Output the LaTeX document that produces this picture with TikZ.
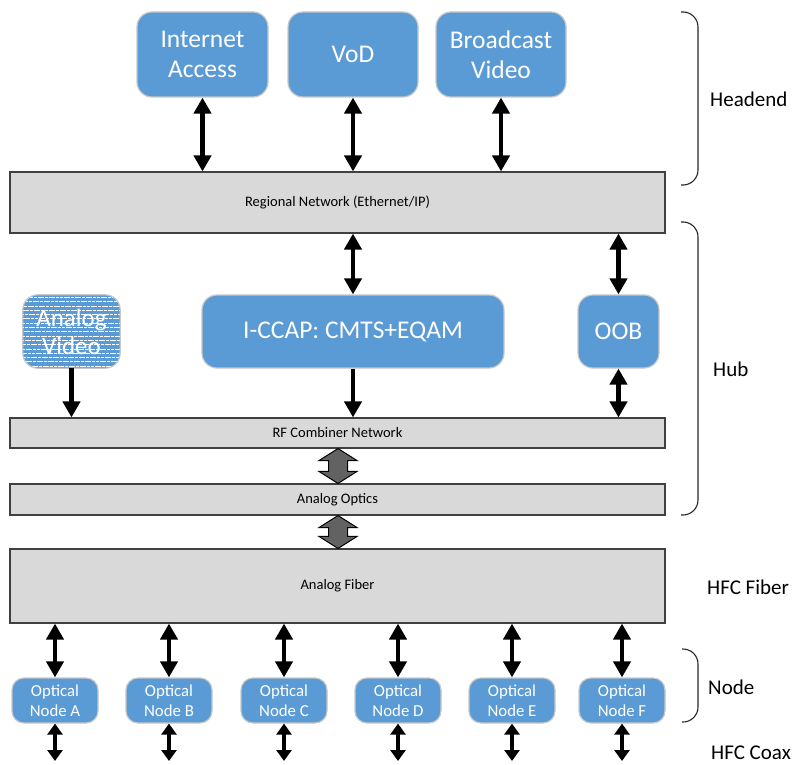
\documentclass[tikz,border=0pt]{standalone}
\usepackage{fontspec}
\setmainfont{Carlito}
\usetikzlibrary{arrows.meta,calc}
\definecolor{boxblue}{HTML}{5B9BD5}
\definecolor{boxedge}{HTML}{C8C8C8}
\definecolor{bargray}{HTML}{D9D9D9}
\definecolor{baredge}{HTML}{404040}
\definecolor{blockgray}{HTML}{626262}
\begin{document}
\begin{tikzpicture}[x=1pt,y=-1pt,
  service/.style={draw=boxedge,line width=1.2pt,fill=boxblue,rounded corners=15pt,
    text=white,align=center,inner sep=0pt,font=\fontsize{25.5}{30}\selectfont},
  optnode/.style={draw=boxedge,line width=1.2pt,fill=boxblue,rounded corners=12pt,
    text=white,align=center,inner sep=0pt,minimum width=86pt,minimum height=45pt,
    font=\fontsize{16.8}{19.5}\selectfont},
  bar/.style={draw=baredge,line width=1.1pt,fill=bargray,inner sep=0pt,
    minimum width=655pt,font=\fontsize{14.5}{16}\selectfont},
  sidelabel/.style={font=\fontsize{21}{25}\selectfont,inner sep=0pt},
  bigdbl/.style={line width=4.5pt,{Triangle[width=17pt,length=16pt]}-{Triangle[width=17pt,length=16pt]}},
  bigone/.style={line width=4.5pt,-{Triangle[width=17pt,length=16pt]}},
  smalldbl/.style={line width=4pt,{Triangle[width=15pt,length=11pt]}-{Triangle[width=15pt,length=11pt]}},
  bracket/.style={draw=black!85,line width=1.1pt,rounded corners=15pt},
  blockarrow/.style={draw=black,line width=1pt,fill=blockgray,line join=miter}
]
\fill[white] (0,0) rectangle (795,765);
\useasboundingbox (0,0) rectangle (795,765);

% headend services
\node[service,minimum width=131pt,minimum height=85pt] (inet)  at (202.5,54.5) {Internet\\Access};
\node[service,minimum width=130pt,minimum height=85pt] (vod)   at (353,54.5) {VoD};
\node[service,minimum width=130pt,minimum height=85pt] (bcast) at (501,54.5) {Broadcast\\Video};

% network bars
\node[bar,minimum height=61pt] (regional) at (337.5,202.5) {Regional Network (Ethernet/IP)};
\node[bar,minimum height=30pt] (rfcomb)   at (337.5,433)   {RF Combiner Network};
\node[bar,minimum height=31pt] (optics)   at (337.5,499.5) {Analog Optics};
\node[bar,minimum height=74pt] (fiber)    at (337.5,586)   {Analog Fiber};

% hub equipment
\node[service,minimum width=302pt,minimum height=73pt] (iccap) at (353,331.5) {I-CCAP: CMTS+EQAM};
\node[service,minimum width=81pt,minimum height=73pt] (oob) at (618.5,331.5) {OOB};

% analog video source with striped fill
\node[minimum width=97pt,minimum height=73pt,inner sep=0pt] (anvid) at (71.5,331.5) {};
\begin{scope}
  \clip[rounded corners=15pt] (anvid.south west) rectangle (anvid.north east);
  \fill[boxblue] (anvid.south west) rectangle (anvid.north east);
  \foreach \k in {0,...,17}
    \draw[white,line width=0.8pt,dash pattern=on 3pt off 0.7pt,dash phase=\k*1.3pt]
      ($(anvid.north west)+(0,2.5+4.3*\k)$) -- ++(97,0);
\end{scope}
\draw[boxedge,line width=1.2pt,rounded corners=15pt] (anvid.south west) rectangle (anvid.north east);
\node[text=white,align=center,font=\fontsize{25}{28}\selectfont] at (anvid) {Analog\\Video};

% optical nodes
\foreach \n/\x in {A/55,B/169,C/284,D/398,E/512,F/622}{
  \node[optnode] (node\n) at (\x,700.5) {Optical\\Node \n};
  \coordinate (coax\n) at (\x,761);
}

% connectors, headend
\foreach \s in {inet,vod,bcast}
  \draw[bigdbl] (\s.south) -- (\s.south |- regional.north);
% connectors, hub
\draw[bigdbl] (iccap.north) -- (iccap.north |- regional.south);
\draw[bigdbl] (oob.north) -- (oob.north |- regional.south);
\draw[bigone] (iccap.south) -- (iccap.south |- rfcomb.north);
\draw[bigone] (anvid.south) -- (anvid.south |- rfcomb.north);
\draw[bigdbl] (oob.south) -- (oob.south |- rfcomb.north);

% block arrows between the analog stages
\foreach \a/\b in {rfcomb/optics,optics/fiber}
  \draw[blockarrow] let \p1=(\a.south), \p2=(\b.north) in
    (\x1+0.5pt,\y1) -- (\x1+19.5pt,\y1-12pt) -- (\x1+10pt,\y1-12pt) -- (\x1+10pt,\y2+12pt)
    -- (\x1+19.5pt,\y2+12pt) -- (\x1+0.5pt,\y2) -- (\x1-18.5pt,\y2+12pt) -- (\x1-9pt,\y2+12pt)
    -- (\x1-9pt,\y1-12pt) -- (\x1-18.5pt,\y1-12pt) -- cycle;

% fiber to nodes and coax drops
\foreach \n in {A,B,C,D,E,F}{
  \draw[bigdbl] (node\n.north) -- (node\n.north |- fiber.south);
  \draw[smalldbl] (node\n.south) -- (coax\n);
}

% brackets and side labels
\draw[bracket] (681,12) -- (698,12) -- (698,185) -- (681,185);
\draw[bracket] (681,222) -- (698,222) -- (698,515) -- (681,515);
\draw[bracket] (682,649) -- (698,649) -- (698,722) -- (682,722);
\node[sidelabel,anchor=west] (lhead) at (710,99)  {Headend};
\node[sidelabel,anchor=west] (lhub)  at (713,369) {Hub};
\node[sidelabel,anchor=west] (lfib)  at (707,587) {HFC Fiber};
\node[sidelabel,anchor=west] (lnode) at (708,687) {Node};
\node[sidelabel,anchor=west] (lcoax) at (711,753) {HFC Coax};
\end{tikzpicture}
\end{document}
